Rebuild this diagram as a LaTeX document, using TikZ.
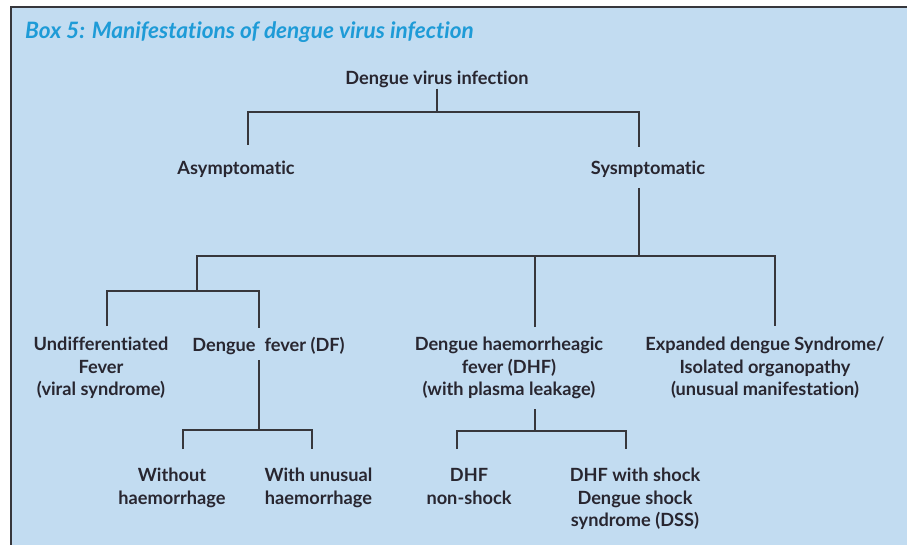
\documentclass[tikz,border=0pt]{standalone}
\usepackage{fontspec}
\setmainfont{Lato}[Ligatures=NoCommon]
\definecolor{boxbg}{RGB}{194,220,241}
\definecolor{boxtitle}{RGB}{30,155,215}
\definecolor{inktext}{RGB}{40,38,48}
\definecolor{inkline}{RGB}{55,55,60}

\begin{document}
\begin{tikzpicture}[x=1pt,y=-1pt,
    lbl/.style={font=\bfseries\fontsize{18.2}{22.5}\selectfont, text=inktext, align=center, inner sep=0pt, anchor=north},
    tree/.style={inkline, line width=1.6pt}]
            \useasboundingbox (0,0) rectangle (907,545);
            \filldraw[fill=boxbg, draw=inkline, line width=1.2pt] (11,7) rectangle (940,570);

            \node[anchor=base west, inner sep=0pt, text=boxtitle, font=\bfseries\itshape\fontsize{22.6}{25}\selectfont] (title) at (25,39) {Box 5: Manifestations of dengue virus infection};

            % top level
            \node[lbl] (dvi) at (437,70.5) {Dengue virus infection};
            \node[lbl] (asym) at (236,160.5) {Asymptomatic};
            \node[lbl] (sym) at (648,160.5) {Sysmptomatic};

            % second level
            \node[lbl] (undiff) at (101,336.8) {Undifferentiated\\Fever\\(viral syndrome)};
            \node[lbl] (df) at (268.5,336.8) {Dengue\ \ fever (DF)};
            \node[lbl] (dhf) at (509,336.8) {Dengue haemorrheagic\\fever (DHF)\\(with plasma leakage)};
            \node[lbl] (ext) at (765,336.8) {Expanded dengue Syndrome/\\Isolated organopathy\\(unusual manifestation)};

            % third level
            \node[lbl] (without) at (172,468.2) {Without\\haemorrhage};
            \node[lbl] (with) at (318.5,468.2) {With unusual\\haemorrhage};
            \node[lbl] (dhfns) at (469,468.2) {DHF\\non-shock};
            \node[lbl] (dss) at (635,468.2) {DHF with shock\\Dengue shock\\syndrome (DSS)};

            \coordinate (j1) at (437,112);
            \coordinate (j2) at (639,256);
            \coordinate (j3) at (197,291);
            \coordinate (j4) at (259,430);
            \coordinate (j5) at (535,431);

            \draw[tree] ([yshift=-1pt]dvi.south) -- (j1);
            \draw[tree] ([xshift=12pt,yshift=15.5pt]asym.north) |- (j1) -| ([xshift=-9pt,yshift=13.5pt]sym.north);

            \draw[tree] ([xshift=-9pt,yshift=-10.5pt]sym.south) -- (j2);
            \draw[tree] (j3) |- (j2) -| ([xshift=10pt,yshift=10.8pt]ext.north);
            \draw[tree] ([xshift=26pt,yshift=9.8pt]dhf.north) -- ([xshift=26pt]dhf.north |- j2);

            \draw[tree] ([xshift=6pt,yshift=10.8pt]undiff.north) |- (j3) -| ([xshift=-9.5pt,yshift=8.8pt]df.north);

            \draw[tree] ([xshift=-9.5pt,yshift=-5.4pt]df.south) -- (j4);
            \draw[tree] ([xshift=11pt,yshift=19.2pt]without.north) |- (j4) -| ([xshift=-6.5pt,yshift=19.2pt]with.north);

            \draw[tree] ([xshift=26pt,yshift=-10.4pt]dhf.south) -- (j5);
            \draw[tree] ([xshift=-12pt,yshift=19.2pt]dhfns.north) |- (j5) -| ([xshift=-9pt,yshift=19.2pt]dss.north);
\end{tikzpicture}
\end{document}
